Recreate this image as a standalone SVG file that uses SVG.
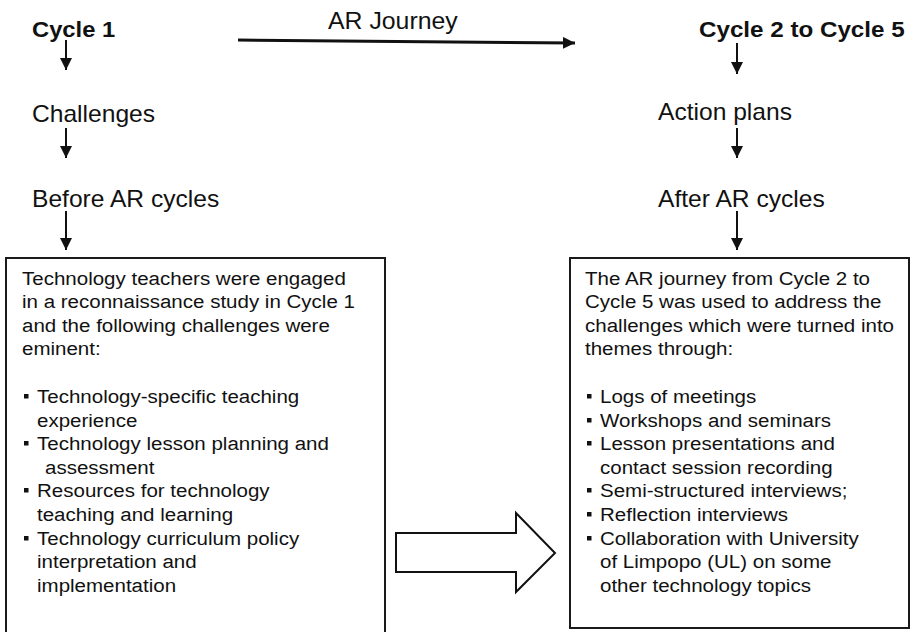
<svg xmlns="http://www.w3.org/2000/svg" width="911" height="632" viewBox="0 0 911 632">
<style>
text{font-family:"Liberation Sans",Arial,Helvetica,sans-serif;fill:#111}
.h{font-size:22px;font-weight:bold}
.l{font-size:23px}
.b{font-size:19px}
.box{fill:#fff;stroke:#1a1a1a;stroke-width:2}
.con{stroke:#111;stroke-width:2;fill:none}
.thick{stroke-width:3}
.dot{fill:#111}
</style>
<defs>
<marker id="ah" markerUnits="userSpaceOnUse" markerWidth="12" markerHeight="12" viewBox="0 0 12 12" refX="12" refY="6" orient="auto">
<path d="M0,0 L12,6 L0,12 z" fill="#111"/>
</marker>
</defs>
<rect width="911" height="632" fill="#fff"/>

<g id="cycle1"><text class="h" transform="translate(32 37) scale(1.08 1)">Cycle 1</text></g>
<g id="arjourney"><text class="l" transform="translate(328 29) scale(1.08 1)">AR Journey</text></g>
<g id="cycle2to5"><text class="h" transform="translate(699 37) scale(1.1 1)">Cycle 2 to Cycle 5</text></g>
<g id="challenges"><text class="l" transform="translate(32 122) scale(1.07 1)">Challenges</text></g>
<g id="actionplans"><text class="l" transform="translate(658 120) scale(1.07 1)">Action plans</text></g>
<g id="before"><text class="l" transform="translate(32 207) scale(1.07 1)">Before AR cycles</text></g>
<g id="after"><text class="l" transform="translate(658 207) scale(1.07 1)">After AR cycles</text></g>

<g id="leftbox">
<rect class="box" x="6" y="258" width="379" height="390"/>
<text class="b" transform="translate(22 285) scale(1.08 1)">Technology teachers were engaged</text>
<text class="b" transform="translate(22 308) scale(1.08 1)">in a reconnaissance study in Cycle 1</text>
<text class="b" transform="translate(22 332) scale(1.08 1)">and the following challenges were</text>
<text class="b" transform="translate(22 355) scale(1.08 1)">eminent:</text>
<rect class="dot" x="24" y="394" width="4.5" height="4.5"/>
<text class="b" transform="translate(37 403) scale(1.08 1)">Technology-specific teaching</text>
<text class="b" transform="translate(37 427) scale(1.08 1)">experience</text>
<rect class="dot" x="24" y="441" width="4.5" height="4.5"/>
<text class="b" transform="translate(37 450) scale(1.08 1)">Technology lesson planning and</text>
<text class="b" transform="translate(45 474) scale(1.08 1)">assessment</text>
<rect class="dot" x="24" y="488" width="4.5" height="4.5"/>
<text class="b" transform="translate(37 497) scale(1.08 1)">Resources for technology</text>
<text class="b" transform="translate(37 521) scale(1.08 1)">teaching and learning</text>
<rect class="dot" x="24" y="536" width="4.5" height="4.5"/>
<text class="b" transform="translate(37 545) scale(1.08 1)">Technology curriculum policy</text>
<text class="b" transform="translate(37 568) scale(1.08 1)">interpretation and</text>
<text class="b" transform="translate(37 592) scale(1.08 1)">implementation</text>
</g>

<g id="rightbox">
<rect class="box" x="570" y="258" width="339" height="370"/>
<text class="b" transform="translate(585 285) scale(1.08 1)">The AR journey from Cycle 2 to</text>
<text class="b" transform="translate(585 308) scale(1.08 1)">Cycle 5 was used to address the</text>
<text class="b" transform="translate(585 332) scale(1.08 1)">challenges which were turned into</text>
<text class="b" transform="translate(585 355) scale(1.08 1)">themes through:</text>
<rect class="dot" x="587" y="394" width="4.5" height="4.5"/>
<text class="b" transform="translate(600 403) scale(1.08 1)">Logs of meetings</text>
<rect class="dot" x="587" y="418" width="4.5" height="4.5"/>
<text class="b" transform="translate(600 427) scale(1.08 1)">Workshops and seminars</text>
<rect class="dot" x="587" y="441" width="4.5" height="4.5"/>
<text class="b" transform="translate(600 450) scale(1.08 1)">Lesson presentations and</text>
<text class="b" transform="translate(600 474) scale(1.08 1)">contact session recording</text>
<rect class="dot" x="587" y="488" width="4.5" height="4.5"/>
<text class="b" transform="translate(600 497) scale(1.08 1)">Semi-structured interviews;</text>
<rect class="dot" x="587" y="512" width="4.5" height="4.5"/>
<text class="b" transform="translate(600 521) scale(1.08 1)">Reflection interviews</text>
<rect class="dot" x="587" y="536" width="4.5" height="4.5"/>
<text class="b" transform="translate(600 545) scale(1.08 1)">Collaboration with University</text>
<text class="b" transform="translate(600 568) scale(1.08 1)">of Limpopo (UL) on some</text>
<text class="b" transform="translate(600 592) scale(1.08 1)">other technology topics</text>
</g>

<g id="connectors">
<line class="con thick" x1="238" y1="40" x2="575" y2="43" marker-end="url(#ah)"/>
<line class="con" x1="66" y1="40" x2="66" y2="70" marker-end="url(#ah)"/>
<line class="con" x1="66" y1="128" x2="66" y2="158" marker-end="url(#ah)"/>
<line class="con" x1="66" y1="211" x2="66" y2="250" marker-end="url(#ah)"/>
<line class="con" x1="737" y1="43" x2="737" y2="74" marker-end="url(#ah)"/>
<line class="con" x1="737" y1="128" x2="737" y2="158" marker-end="url(#ah)"/>
<line class="con" x1="737" y1="211" x2="737" y2="250" marker-end="url(#ah)"/>
<path class="con" d="M396,533 L516,533 L516,513 L555,553 L516,592 L516,572 L396,572 Z" style="fill:#fff"/>
</g>
</svg>
